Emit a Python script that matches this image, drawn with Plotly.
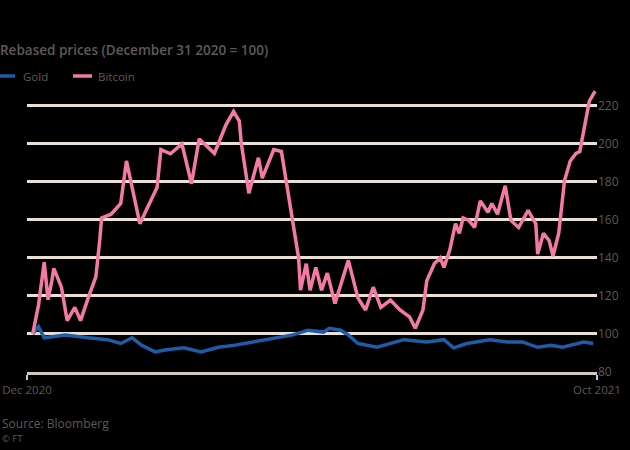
import plotly.graph_objects as go

# Bitcoin, rebased (Dec 31 2020 = 100)
btc_dates = ["2020-12-31", "2021-01-03", "2021-01-06", "2021-01-08", "2021-01-10", "2021-01-11",
             "2021-01-15", "2021-01-18", "2021-01-22", "2021-01-25", "2021-01-29", "2021-02-02",
             "2021-02-04", "2021-02-05", "2021-02-10", "2021-02-15", "2021-02-18", "2021-02-21",
             "2021-02-25", "2021-03-02", "2021-03-06", "2021-03-08", "2021-03-13", "2021-03-19",
             "2021-03-24", "2021-03-28", "2021-04-05", "2021-04-11", "2021-04-15", "2021-04-18",
             "2021-04-19", "2021-04-23", "2021-04-28", "2021-04-30", "2021-05-06", "2021-05-10",
             "2021-05-14", "2021-05-19", "2021-05-20", "2021-05-23", "2021-05-25", "2021-05-28",
             "2021-05-31", "2021-06-03", "2021-06-07", "2021-06-14", "2021-06-19", "2021-06-23",
             "2021-06-27", "2021-07-01", "2021-07-06", "2021-07-11", "2021-07-16", "2021-07-19",
             "2021-07-23", "2021-07-25", "2021-07-29", "2021-08-01", "2021-08-03", "2021-08-06",
             "2021-08-09", "2021-08-11", "2021-08-13", "2021-08-16", "2021-08-19", "2021-08-22",
             "2021-08-26", "2021-08-28", "2021-08-31", "2021-09-04", "2021-09-07", "2021-09-11",
             "2021-09-16", "2021-09-20", "2021-09-21", "2021-09-24", "2021-09-27", "2021-09-29",
             "2021-10-02", "2021-10-05", "2021-10-08", "2021-10-11", "2021-10-13", "2021-10-16",
             "2021-10-17", "2021-10-18", "2021-10-21"]
btc_values = [100, 115, 137.7, 118, 128, 134.5,
              124.6, 107, 114, 107, 119, 130,
              149, 161, 163, 168.6, 191, 177,
              158, 168.6, 177, 197, 194.8, 200,
              179, 202.6, 195, 210, 217, 212,
              200.5, 174, 192.7, 182, 197, 196,
              170, 140, 123, 137, 123, 135,
              123, 132, 116, 138.7, 119, 112.6,
              124.6, 114, 117.8, 112.6, 109, 103,
              112.6, 128, 137, 140, 135, 144,
              158, 152.9, 161, 159.7, 156, 170,
              164, 168.6, 163, 178, 159.7, 156,
              165, 158, 142, 153, 149, 141,
              153, 180.6, 191, 195, 196, 212,
              215.7, 222.5, 227.7]

# Gold, rebased
gold_dates = ["2020-12-31", "2021-01-03", "2021-01-06", "2021-01-17", "2021-01-29", "2021-02-08",
              "2021-02-15", "2021-02-21", "2021-02-26", "2021-03-05", "2021-03-10", "2021-03-20",
              "2021-03-29", "2021-04-07", "2021-04-15", "2021-04-25", "2021-05-06", "2021-05-16",
              "2021-05-24", "2021-06-01", "2021-06-04", "2021-06-10", "2021-06-14", "2021-06-19",
              "2021-06-29", "2021-07-13", "2021-07-25", "2021-08-03", "2021-08-08", "2021-08-15",
              "2021-08-27", "2021-09-05", "2021-09-13", "2021-09-21", "2021-09-28", "2021-10-04",
              "2021-10-15", "2021-10-20"]
gold_values = [100, 103.8, 98, 99.5, 98, 97,
               95, 98, 94, 90.6, 91.6, 92.7,
               90.6, 93, 94, 95.8, 98, 99.5,
               102, 101, 103, 102, 99.5, 95,
               93, 97, 95.8, 97, 92.7, 95,
               97, 95.8, 95.8, 93, 94, 93,
               95.8, 95]

y_ticks = [80, 100, 120, 140, 160, 180, 200, 220]
x_ticks = ["2020-12-28", "2021-10-22"]
x_labels = ["Dec 2020", "Oct 2021"]

GOLD = "#1d5ca6"
BTC = "#f27aa5"
TXT = "#5f5955"
GRID = "#e9dfd5"
FONT = "Open Sans"

fig = go.Figure()
fig.add_trace(go.Scatter(x=gold_dates, y=gold_values, mode="lines", name="Gold",
                         line=dict(color=GOLD, width=3.5)))
fig.add_trace(go.Scatter(x=btc_dates, y=btc_values, mode="lines", name="Bitcoin",
                         line=dict(color=BTC, width=3.5)))

# pixel -> paper helpers (plot area 27..597 x, 83..372 y)
def px(x):
    return (x - 27) / 570

def py(y):
    return (372 - y) / 289

shapes = [
    dict(type="line", xref="paper", yref="paper", x0=px(0), x1=px(15), y0=py(76), y1=py(76),
         line=dict(color=GOLD, width=3.5)),
    dict(type="line", xref="paper", yref="paper", x0=px(73), x1=px(92), y0=py(76), y1=py(76),
         line=dict(color=BTC, width=3.5)),
]
annotations = [
    dict(text="Gold", x=px(21), y=py(76), xref="paper", yref="paper", xanchor="left",
         yanchor="middle", showarrow=False, font=dict(size=11.5, color=TXT, family=FONT)),
    dict(text="Bitcoin", x=px(96), y=py(76), xref="paper", yref="paper", xanchor="left",
         yanchor="middle", showarrow=False, font=dict(size=11.5, color=TXT, family=FONT)),
    dict(text="Source: Bloomberg", x=px(0), y=py(423), xref="paper", yref="paper", xanchor="left",
         yanchor="middle", showarrow=False, font=dict(size=12, color=TXT, family=FONT)),
    dict(text="© FT", x=px(0), y=py(438), xref="paper", yref="paper", xanchor="left",
         yanchor="middle", showarrow=False, font=dict(size=9.5, color=TXT, family=FONT)),
]

fig.update_layout(
    width=630, height=450,
    margin=dict(l=27, r=33, t=83, b=78),
    paper_bgcolor="black", plot_bgcolor="black",
    showlegend=False,
    title=dict(text="Rebased prices (December 31 2020 = 100)", x=0, xanchor="left",
               xref="container", y=1 - 50 / 450, yanchor="middle",
               font=dict(size=13.5, color=TXT, family=FONT, weight=600)),
    shapes=shapes,
    annotations=annotations,
)
fig.update_xaxes(range=x_ticks, tickvals=x_ticks, ticktext=x_labels, showgrid=False,
                 zeroline=False, showline=True, linecolor="#d2cac2", linewidth=3,
                 ticks="outside", ticklen=5, tickcolor="#d2cac2", tickwidth=2,
                 tickfont=dict(size=11.5, color=TXT, family=FONT), automargin=False)
fig.update_yaxes(range=[80, 232], side="right", tickvals=y_ticks, showgrid=True,
                 gridcolor=GRID, gridwidth=2.5, zeroline=False, showline=False,
                 ticks="", tickfont=dict(size=12, color=TXT, family=FONT), automargin=False)

# page body has an 8px default margin; drop it so the figure sits at the window's corner
fig.write_html("out.html", config={"displayModeBar": False},
               post_script="document.body.style.margin='0';")
